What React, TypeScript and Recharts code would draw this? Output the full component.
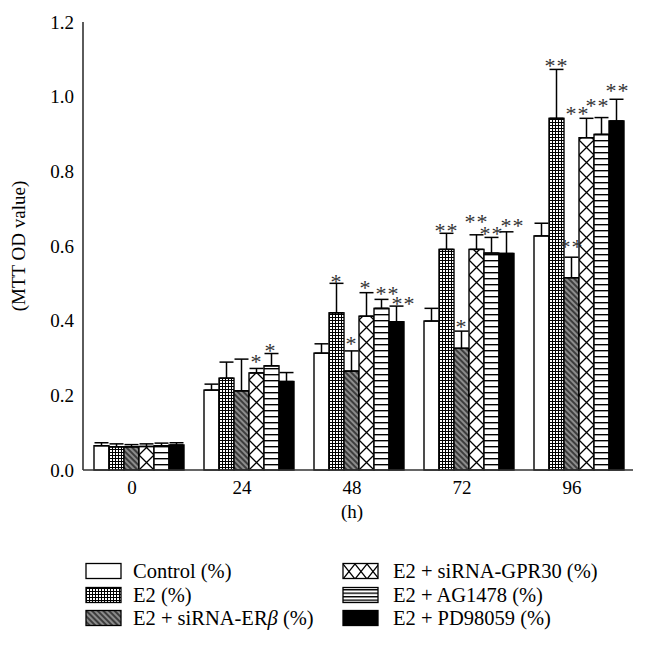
import { BarChart, Bar, XAxis, YAxis, ErrorBar, LabelList } from 'recharts';

const hours = ['0', '24', '48', '72', '96'];

const control = [0.065, 0.214, 0.313, 0.399, 0.627];
const controlErr = [0.008, 0.016, 0.025, 0.034, 0.034];
const e2 = [0.062, 0.246, 0.421, 0.591, 0.942];
const e2Err = [0.008, 0.043, 0.079, 0.043, 0.131];
const erb = [0.062, 0.212, 0.265, 0.326, 0.515];
const erbErr = [0.006, 0.085, 0.054, 0.046, 0.055];
const gpr = [0.063, 0.26, 0.412, 0.591, 0.89];
const gprErr = [0.007, 0.012, 0.063, 0.039, 0.052];
const ag = [0.065, 0.279, 0.433, 0.581, 0.899];
const agErr = [0.007, 0.033, 0.024, 0.042, 0.045];
const pd = [0.067, 0.237, 0.397, 0.58, 0.935];
const pdErr = [0.006, 0.024, 0.042, 0.058, 0.058];

const controlStars = ['', '', '', '', ''];
const e2Stars = ['', '', '*', '**', '**'];
const erbStars = ['', '', '*', '*', '**'];
const gprStars = ['', '*', '*', '**', '**'];
const agStars = ['', '*', '**', '**', '**'];
const pdStars = ['', '', '**', '**', '**'];

const yTicks = [0, 0.2, 0.4, 0.6, 0.8, 1.0, 1.2];

// how far the asterisks sit above each error cap, and their nudge sideways (px)
const STAR_LIFT: Record<string, number[]> = {
  control: [0, 0, 0, 0, 0],
  e2: [0, 0, 5, 6, 7],
  erb: [0, 0, 11, 8, 14],
  gpr: [0, 10, 9, 17, 8],
  ag: [0, 7, 9, 7, 16],
  pd: [0, 0, 6, 10, 12],
};
const STAR_DX: Record<string, number[]> = {
  control: [0, 0, 0, 0, 0],
  e2: [0, 0, 0, 0, 0],
  erb: [0, 0, 0, 0, 0],
  gpr: [0, 0, -1, 0, -9],
  ag: [0, -1, 6, 0, -4],
  pd: [0, 0, 7, 6, 1],
};

type Fill = 'open' | 'grid' | 'diag' | 'diamond' | 'hlines' | 'solid';

const series = [
  { key: 'control', name: 'Control (%)', vals: control, errs: controlErr, stars: controlStars, fill: 'open' as Fill },
  { key: 'e2', name: 'E2 (%)', vals: e2, errs: e2Err, stars: e2Stars, fill: 'grid' as Fill },
  { key: 'erb', name: 'E2 + siRNA-ERβ (%)', vals: erb, errs: erbErr, stars: erbStars, fill: 'diag' as Fill },
  { key: 'gpr', name: 'E2 + siRNA-GPR30 (%)', vals: gpr, errs: gprErr, stars: gprStars, fill: 'diamond' as Fill },
  { key: 'ag', name: 'E2 + AG1478 (%)', vals: ag, errs: agErr, stars: agStars, fill: 'hlines' as Fill },
  { key: 'pd', name: 'E2 + PD98059 (%)', vals: pd, errs: pdErr, stars: pdStars, fill: 'solid' as Fill },
];

const data = hours.map((h, i) => {
  const row: Record<string, any> = { hour: h };
  series.forEach((s) => {
    row[s.key] = s.vals[i];
    row[s.key + 'Err'] = [0, s.errs[i]];
  });
  return row;
});

const FONT = 'Liberation Serif';
const txt = { fontFamily: FONT };

function PatternDef({ id, kind, x, y, w, h, line = 6 }: { id: string; kind: Fill; x: number; y: number; w: number; h: number; line?: number }) {
  if (kind === 'grid') {
    return (
      <pattern id={id} x={x} y={y} width={3} height={3} patternUnits="userSpaceOnUse">
        <rect width={3} height={3} fill="#fff" />
        <path d="M0 0.5H3M0.5 0V3" stroke="#000" strokeWidth={1} />
      </pattern>
    );
  }
  if (kind === 'diag') {
    return (
      <pattern id={id} x={x} y={y} width={4} height={4} patternUnits="userSpaceOnUse" patternTransform="rotate(-45)">
        <rect width={4} height={4} fill="#8c8c8c" />
        <path d="M1 0V4" stroke="#222" strokeWidth={1.5} />
      </pattern>
    );
  }
  if (kind === 'diamond') {
    return (
      <pattern id={id} x={x} y={y} width={w} height={h} patternUnits="userSpaceOnUse">
        <rect width={w} height={h} fill="#fff" />
        <path d={`M0 0L${w} ${h}M${w} 0L0 ${h}`} stroke="#000" strokeWidth={1.3} />
      </pattern>
    );
  }
  if (kind === 'hlines') {
    return (
      <pattern id={id} x={x} y={y} width={4} height={line} patternUnits="userSpaceOnUse">
        <rect width={4} height={line} fill="#fff" />
        <path d="M0 0.7H4" stroke="#000" strokeWidth={1.4} />
      </pattern>
    );
  }
  return null;
}

const fillFor = (kind: Fill, id: string) => (kind === 'open' ? '#fff' : kind === 'solid' ? '#000' : `url(#${id})`);

const makeShape = (kind: Fill, key: string) => (props: any) => {
  const { x, y, width, height, index } = props;
  if (!height || height <= 0) return <g />;
  const id = `pat-${key}-${index}`;
  return (
    <g>
      <defs>
        <PatternDef id={id} kind={kind} x={x} y={y + height} w={width} h={15} />
      </defs>
      <rect x={x} y={y} width={width} height={height} fill={fillFor(kind, id)} stroke="#000" strokeWidth={1.4} />
    </g>
  );
};

const makeStars = (key: string, stars: string[], vals: number[], errs: number[]) => (props: any) => {
  const vb = props.viewBox ?? props;
  const { x, y, width, height } = vb;
  const index = props.index;
  const s = stars[index];
  if (!s) return null;
  const top = y - (errs[index] * height) / vals[index];
  const cy = top - STAR_LIFT[key][index];
  return (
    <text
      x={x + width / 2 + STAR_DX[key][index]}
      y={cy + 11}
      textAnchor="middle"
      fontSize={22}
      style={txt}
      fill="#333"
      letterSpacing={1}
    >
      {s}
    </text>
  );
};

function LegendBlock() {
  const left = series.slice(0, 3);
  const right = series.slice(3);
  const rowY = [31, 55, 78];
  const item = (s: (typeof series)[number], i: number, sx: number, tx: number) => {
    const id = `leg-${s.key}`;
    const cy = rowY[i];
    const name =
      s.key === 'erb' ? (
        <>
          E2 + siRNA-ER<tspan fontStyle="italic">β</tspan> (%)
        </>
      ) : (
        s.name
      );
    return (
      <g key={s.key}>
        <defs>
          <PatternDef id={id} kind={s.fill} x={sx} y={cy + 8} w={12} h={15} line={3.5} />
        </defs>
        <rect x={sx} y={cy - 7.5} width={35} height={15} fill={fillFor(s.fill, id)} stroke="#000" strokeWidth={1.3} />
        <text x={tx} y={cy + 7} fontSize={20.5} style={txt} fill="#000">
          {name}
        </text>
      </g>
    );
  };
  return (
    <svg width={647} height={114} style={{ position: 'absolute', left: 0, top: 540 }}>
      {left.map((s, i) => item(s, i, 86, 133))}
      {right.map((s, i) => item(s, i, 343, 393))}
    </svg>
  );
}

export default function App() {
  return (
    <div style={{ position: 'absolute', left: 0, top: 0, width: 647, height: 654, background: '#fff', fontFamily: FONT }}>
      <BarChart
        width={647}
        height={540}
        data={data}
        margin={{ top: 22, right: 14, left: 0, bottom: 10 }}
        barCategoryGap="10%"
        barGap={0}
        style={txt}
      >
        <XAxis
          dataKey="hour"
          height={60}
          tickLine={false}
          tickSize={0}
          tickMargin={11}
          axisLine={{ stroke: '#333', strokeWidth: 1.6 }}
          tick={{ fill: '#000', fontSize: 19, style: txt, dx: -6 }}
          label={{ value: '(h)', position: 'insideBottom', offset: 12, dx: -6, fill: '#000', fontSize: 19, style: txt }}
        />
        <YAxis
          width={83}
          domain={[0, 1.2]}
          ticks={yTicks}
          tickFormatter={(v: number) => v.toFixed(1)}
          tickLine={false}
          tickSize={0}
          tickMargin={9}
          axisLine={{ stroke: '#333', strokeWidth: 1.6 }}
          tick={{ fill: '#000', fontSize: 19, style: txt }}
          label={{
            value: '(MTT OD value)',
            angle: -90,
            position: 'insideLeft',
            dx: 13,
            style: { textAnchor: 'middle', fill: '#000', fontSize: 19, fontFamily: FONT },
          }}
        />
        {series.map((s) => (
          <Bar key={s.key} dataKey={s.key} isAnimationActive={false} shape={makeShape(s.fill, s.key)}>
            <ErrorBar dataKey={s.key + 'Err'} direction="y" width={7} stroke="#000" strokeWidth={1.5} />
            <LabelList dataKey={s.key} content={makeStars(s.key, s.stars, s.vals, s.errs)} />
          </Bar>
        ))}
      </BarChart>
      <LegendBlock />
    </div>
  );
}
